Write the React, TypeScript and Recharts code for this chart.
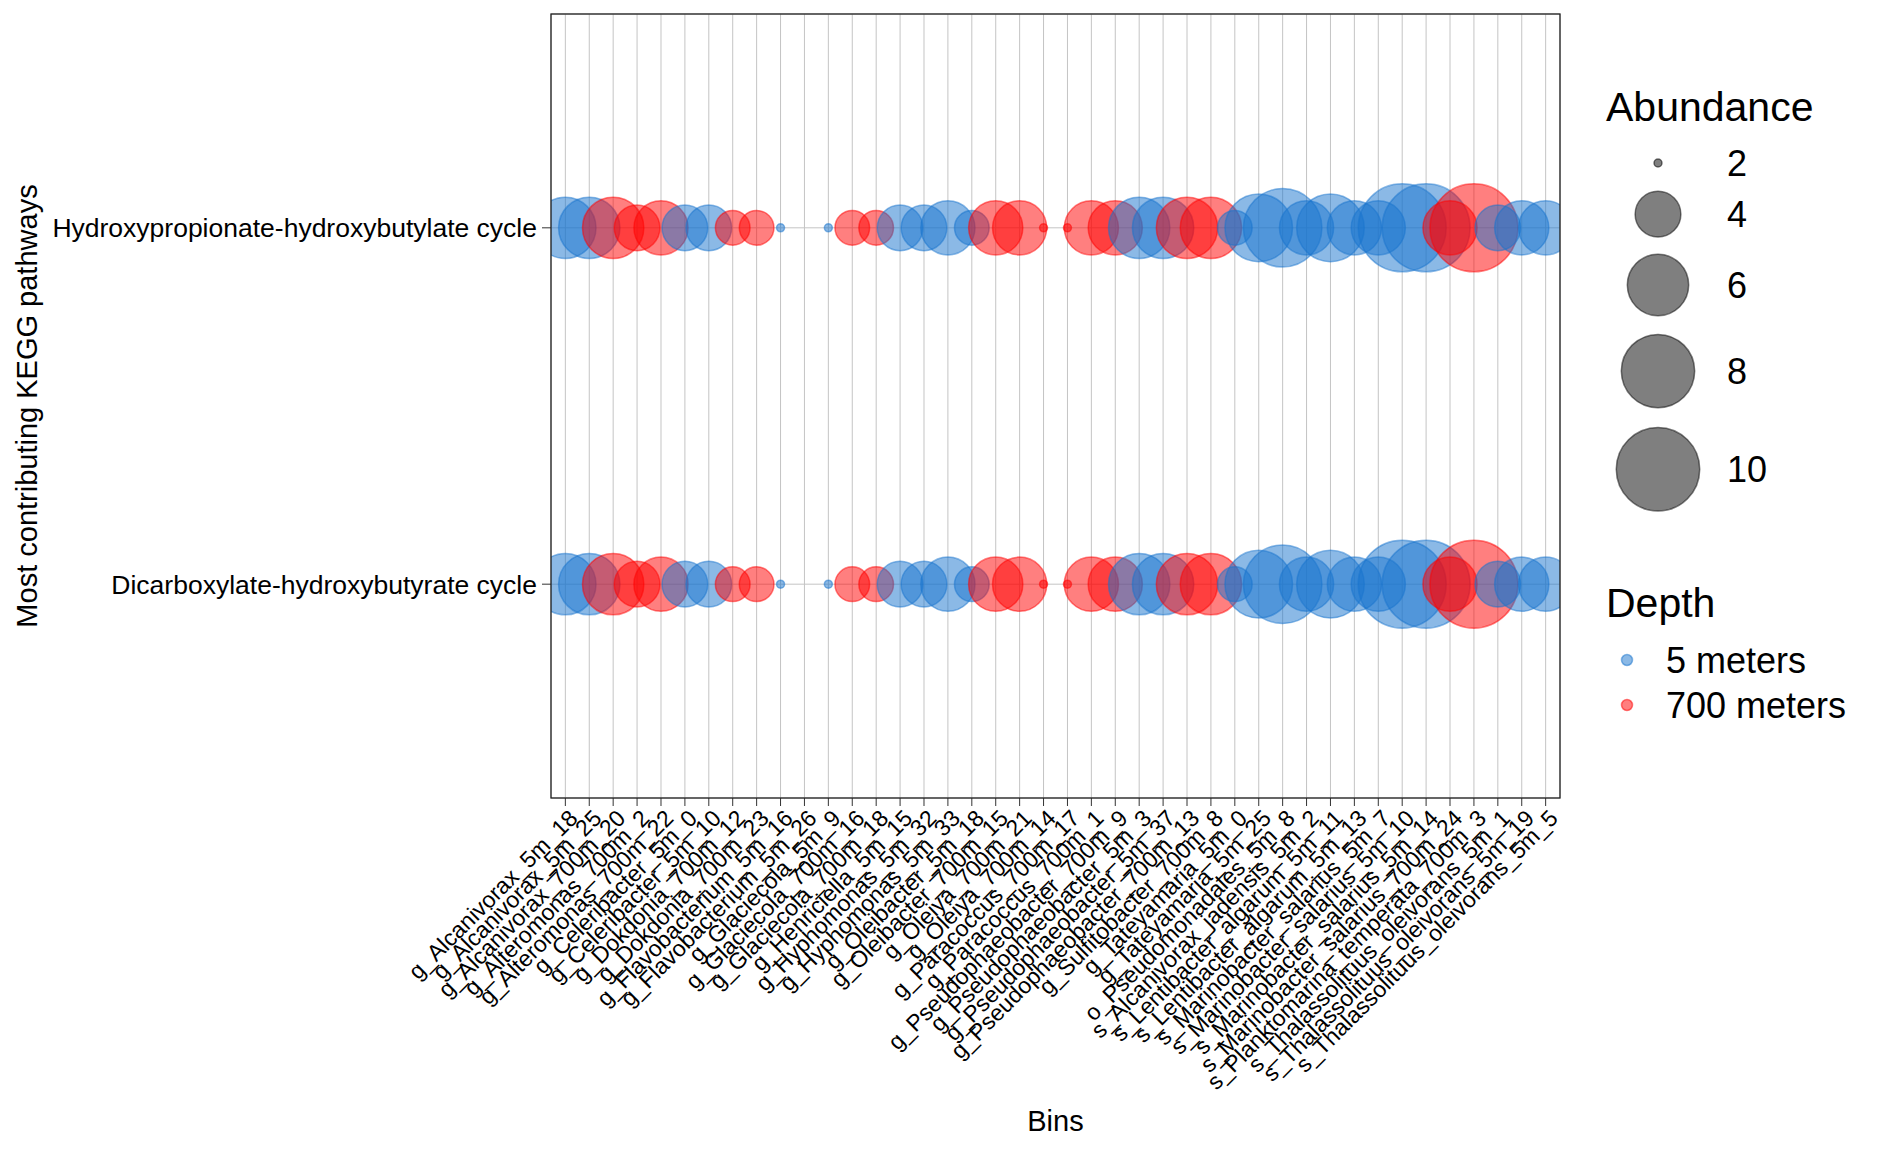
import { CartesianGrid, Scatter, ScatterChart, XAxis, YAxis, ZAxis } from "recharts";

// Bins on the x axis, in plotting order.
const BINS = [
  "g_Alcanivorax_5m_18",
  "g_Alcanivorax_5m_25",
  "g_Alcanivorax_700m_20",
  "g_Alteromonas_700m_2",
  "g_Alteromonas_700m_22",
  "g_Celeribacter_5m_0",
  "g_Celeribacter_5m_10",
  "g_Dokdonia_700m_12",
  "g_Dokdonia_700m_23",
  "g_Flavobacterium_5m_16",
  "g_Flavobacterium_5m_26",
  "g_Glaciecola_5m_9",
  "g_Glaciecola_700m_16",
  "g_Glaciecola_700m_18",
  "g_Henriciella_5m_15",
  "g_Hyphomonas_5m_32",
  "g_Hyphomonas_5m_33",
  "g_Oleibacter_5m_18",
  "g_Oleibacter_700m_15",
  "g_Oleiya_700m_21",
  "g_Oleiya_700m_14",
  "g_Paracoccus_700m_17",
  "g_Paracoccus_700m_1",
  "g_Pseudophaeobacter_700m_9",
  "g_Pseudophaeobacter_5m_3",
  "g_Pseudophaeobacter_5m_37",
  "g_Pseudophaeobacter_700m_13",
  "g_Sulfitobacter_700m_8",
  "g_Tateyamaria_5m_0",
  "g_Tateyamaria_5m_25",
  "o_Pseudomonadales_5m_8",
  "s_Alcanivorax_jadensis_5m_2",
  "s_Lentibacter_algarum_5m_11",
  "s_Lentibacter_algarum_5m_13",
  "s_Marinobacter_salarius_5m_7",
  "s_Marinobacter_salarius_5m_10",
  "s_Marinobacter_salarius_5m_14",
  "s_Marinobacter_salarius_700m_24",
  "s_Planktomarina_temperata_700m_3",
  "s_Thalassolituus_oleivorans_5m_1",
  "s_Thalassolituus_oleivorans_5m_19",
  "s_Thalassolituus_oleivorans_5m_5",
];

// Abundance per bin (same for both pathways); null = bin has no hit.
const ABUNDANCE: (number | null)[] = [
  6, 6, 6, 4, 5, 4, 4, 3, 3, 2,
  null, 2, 3, 3, 4, 4, 5, 3, 5, 5,
  2, 2, 5, 5, 6, 6, 6, 6, 3, 7,
  9, 5, 7, 5, 5, 11, 11, 5, 11, 4,
  5, 5,
];

// y levels, bottom to top
const PATHWAYS = [
  "Dicarboxylate-hydroxybutyrate cycle",
  "Hydroxypropionate-hydroxybutylate cycle",
];

const DEPTHS = ["5 meters", "700 meters"];
const SIZE_BREAKS = [2, 4, 6, 8, 10];

const DEPTH_COLOR: Record<string, string> = {
  "5 meters": "#1874CD",
  "700 meters": "#FF0000",
};

const FONT = "'Liberation Sans', Arial, Helvetica, sans-serif";

// page / panel geometry
const W = 1881;
const H = 1152;
const PANEL = { left: 551, top: 14, right: 1560, bottom: 798 };

// size scale: abundance -> [0,1] via ZAxis, then area palette (diameter ~ sqrt)
const Z_DOMAIN: [number, number] = [2, 11];
const D_MIN = 8;
const D_MAX = 88;
const diameter = (t: number) => D_MIN + (D_MAX - D_MIN) * Math.sqrt(Math.max(0, t));
const toUnit = (v: number) => (v - Z_DOMAIN[0]) / (Z_DOMAIN[1] - Z_DOMAIN[0]);

const depthOf = (bin: string) => (bin.includes("_700m_") ? "700 meters" : "5 meters");

const seriesFor = (pathwayIdx: number) =>
  BINS.map((bin, i) => ({
    x: i + 1,
    y: pathwayIdx + 1,
    bin,
    depth: depthOf(bin),
    abundance: ABUNDANCE[i],
  })).filter((d) => d.abundance != null);

function Bubble(props: any) {
  const { cx, cy, size, payload } = props;
  const t = typeof size === "number" ? size : toUnit(payload.abundance);
  const c = DEPTH_COLOR[payload.depth];
  return (
    <circle
      cx={cx}
      cy={cy}
      r={diameter(t) / 2}
      fill={c}
      fillOpacity={0.5}
      stroke={c}
      strokeOpacity={0.5}
      strokeWidth={1.5}
    />
  );
}

function BinTick({ x, y, payload }: any) {
  const label = BINS[payload.value - 1] ?? "";
  return (
    <text
      transform={`translate(${x + 2},${y}) rotate(-45)`}
      textAnchor="end"
      dy="0.72em"
      fontSize={23}
      fontFamily={FONT}
      fill="#000"
    >
      {label}
    </text>
  );
}

function PathwayTick({ x, y, payload }: any) {
  return (
    <text
      x={x - 3}
      y={y}
      dy="0.36em"
      textAnchor="end"
      fontSize={26.5}
      fontFamily={FONT}
      fill="#000"
    >
      {PATHWAYS[payload.value - 1]}
    </text>
  );
}

// legend row centres for the size keys, stacked by key height
function sizeRows() {
  const heights = SIZE_BREAKS.map((b) => Math.max(40, diameter(toUnit(b)) * 1.1 + 12));
  const ys: number[] = [];
  let y = 163;
  heights.forEach((h, i) => {
    if (i > 0) y += (heights[i - 1] + h) / 2;
    ys.push(y);
  });
  return ys;
}

export default function App() {
  const rows = sizeRows();
  const xTicks = BINS.map((_, i) => i + 1);
  return (
    <div
      style={{
        position: "absolute",
        left: 0,
        top: 0,
        width: W,
        height: H,
        background: "#fff",
        fontFamily: FONT,
      }}
    >
      <ScatterChart
        width={W}
        height={H}
        margin={{ top: PANEL.top, right: W - PANEL.right, bottom: 0, left: 0 }}
      >
        <CartesianGrid stroke="#c4c4c4" strokeWidth={1} />
        <XAxis
          type="number"
          dataKey="x"
          domain={[0.4, BINS.length + 0.6]}
          ticks={xTicks}
          interval={0}
          allowDataOverflow
          height={H - PANEL.bottom}
          axisLine={false}
          tickLine={{ stroke: "#333" }}
          tickSize={8}
          tick={<BinTick />}
        />
        <YAxis
          type="number"
          dataKey="y"
          domain={[0.4, PATHWAYS.length + 0.6]}
          ticks={[1, 2]}
          interval={0}
          allowDataOverflow
          width={PANEL.left}
          axisLine={false}
          tickLine={{ stroke: "#333" }}
          tickSize={9}
          tick={<PathwayTick />}
        />
        <ZAxis type="number" dataKey="abundance" domain={Z_DOMAIN} range={[0, 1]} />
        {PATHWAYS.map((p, i) => (
          <Scatter
            key={p}
            name={p}
            data={seriesFor(i)}
            shape={<Bubble />}
            isAnimationActive={false}
          />
        ))}
      </ScatterChart>

      <svg
        width={W}
        height={H}
        style={{ position: "absolute", left: 0, top: 0, pointerEvents: "none" }}
        fontFamily={FONT}
      >
        <rect
          x={PANEL.left}
          y={PANEL.top}
          width={PANEL.right - PANEL.left}
          height={PANEL.bottom - PANEL.top}
          fill="none"
          stroke="#222"
          strokeWidth={1.3}
        />
        <text
          transform={`translate(37,${(PANEL.top + PANEL.bottom) / 2}) rotate(-90)`}
          textAnchor="middle"
          fontSize={29}
          fill="#000"
        >
          Most contributing KEGG pathways
        </text>
        <text
          x={(PANEL.left + PANEL.right) / 2}
          y={1131}
          textAnchor="middle"
          fontSize={29}
          fill="#000"
        >
          Bins
        </text>

        {/* Abundance (size) legend */}
        <text x={1606} y={121} fontSize={41} fill="#000">
          Abundance
        </text>
        {SIZE_BREAKS.map((b, i) => (
          <g key={b}>
            <circle
              cx={1658}
              cy={rows[i]}
              r={diameter(toUnit(b)) / 2}
              fill="#000"
              fillOpacity={0.5}
              stroke="#000"
              strokeOpacity={0.5}
              strokeWidth={1.5}
            />
            <text x={1727} y={rows[i]} dy="0.36em" fontSize={36} fill="#000">
              {b}
            </text>
          </g>
        ))}

        {/* Depth (colour) legend */}
        <text x={1606} y={617} fontSize={41} fill="#000">
          Depth
        </text>
        {DEPTHS.map((d, i) => (
          <g key={d}>
            <circle
              cx={1627}
              cy={660 + i * 45}
              r={5.5}
              fill={DEPTH_COLOR[d]}
              fillOpacity={0.5}
              stroke={DEPTH_COLOR[d]}
              strokeOpacity={0.5}
              strokeWidth={1.5}
            />
            <text x={1666} y={660 + i * 45} dy="0.36em" fontSize={36} fill="#000">
              {d}
            </text>
          </g>
        ))}
      </svg>
    </div>
  );
}
